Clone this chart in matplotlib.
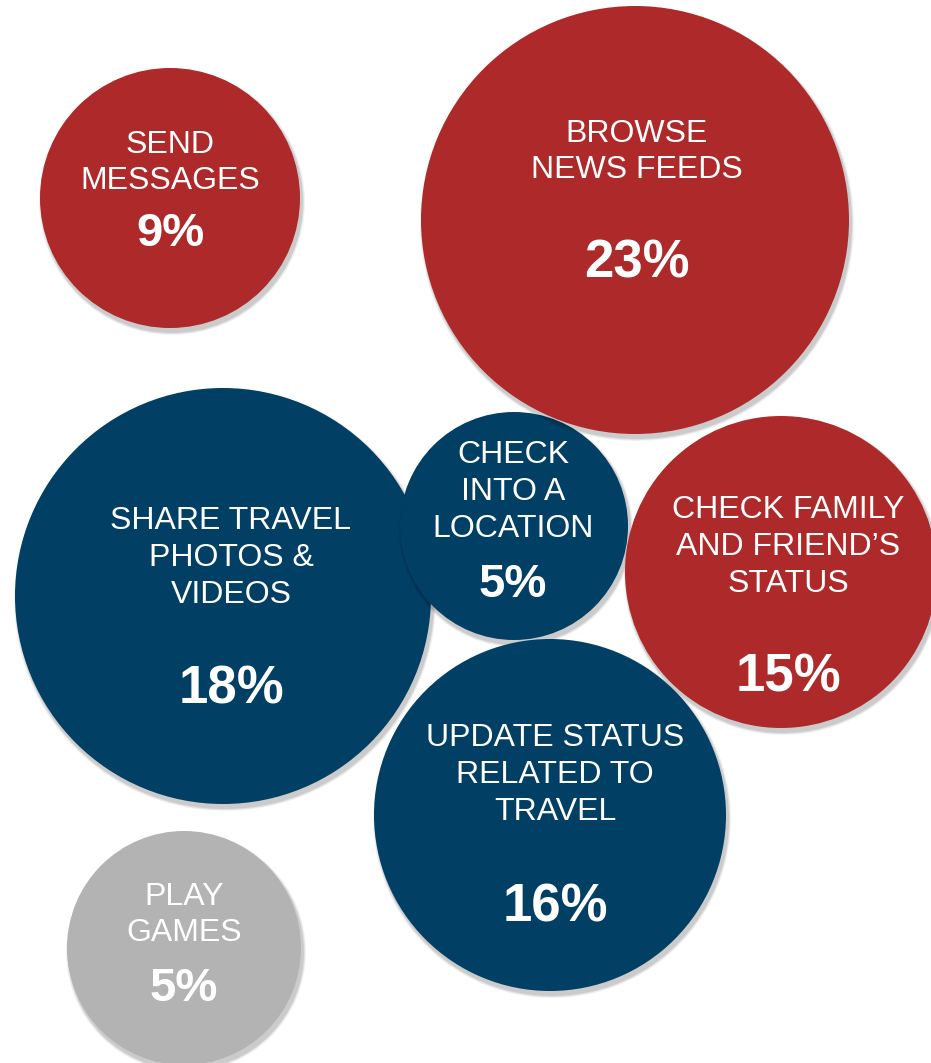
import matplotlib.pyplot as plt
from matplotlib.patches import Circle

plt.rcParams['font.family'] = ['Liberation Sans', 'DejaVu Sans']

# bubbles, listed in drawing order (later ones sit on top)
labels = ["SHARE TRAVEL\nPHOTOS &\nVIDEOS", "CHECK\nINTO A\nLOCATION",
          "UPDATE STATUS\nRELATED TO\nTRAVEL", "CHECK FAMILY\nAND FRIEND\u2019S\nSTATUS",
          "BROWSE\nNEWS FEEDS", "SEND\nMESSAGES", "PLAY\nGAMES"]
values = [18, 5, 16, 15, 23, 9, 5]
groups = ["blue", "blue", "blue", "red", "red", "red", "grey"]

# layout of the bubbles (pixel units of the original slide)
bx = [223, 514, 550, 781, 635, 170, 184]
by = [596, 526, 815, 572, 220, 198, 948]
br = [208, 114, 176, 156, 214, 130, 117]
text_x = [231, 513, 555, 788, 637, 170, 184]
label_y = [558, 492, 775, 547, 152, 163, 915]
pct_y = [690, 585, 907, 678, 264, 234, 989]
pct_size = [38, 34, 38, 38, 38, 34, 34]

colors = {"red": "#ae2a2a", "blue": "#023f64", "grey": "#b3b3b3"}

fig = plt.figure(figsize=(9.31, 10.63), dpi=100)
ax = fig.add_axes([0, 0, 1, 1])
ax.set_xlim(0, 931)
ax.set_ylim(1063, 0)
ax.set_aspect('equal')
ax.axis('off')

for i in range(len(values)):
    # soft drop shadow
    for k, a in [(6, 0.05), (4, 0.07), (2, 0.09)]:
        ax.add_patch(Circle((bx[i] + 2, by[i] + 4), br[i] + k * 0.5,
                            facecolor='black', alpha=a, edgecolor='none'))
    ax.add_patch(Circle((bx[i], by[i]), br[i], facecolor=colors[groups[i]],
                        edgecolor='none'))
    ax.text(text_x[i], label_y[i], labels[i], color='white', fontsize=23,
            ha='center', va='center', linespacing=1.3)
    ax.text(text_x[i], pct_y[i], f"{values[i]}%", color='white', fontsize=pct_size[i],
            fontweight='bold', ha='center', va='center')

fig.savefig("out.png", dpi=100)
